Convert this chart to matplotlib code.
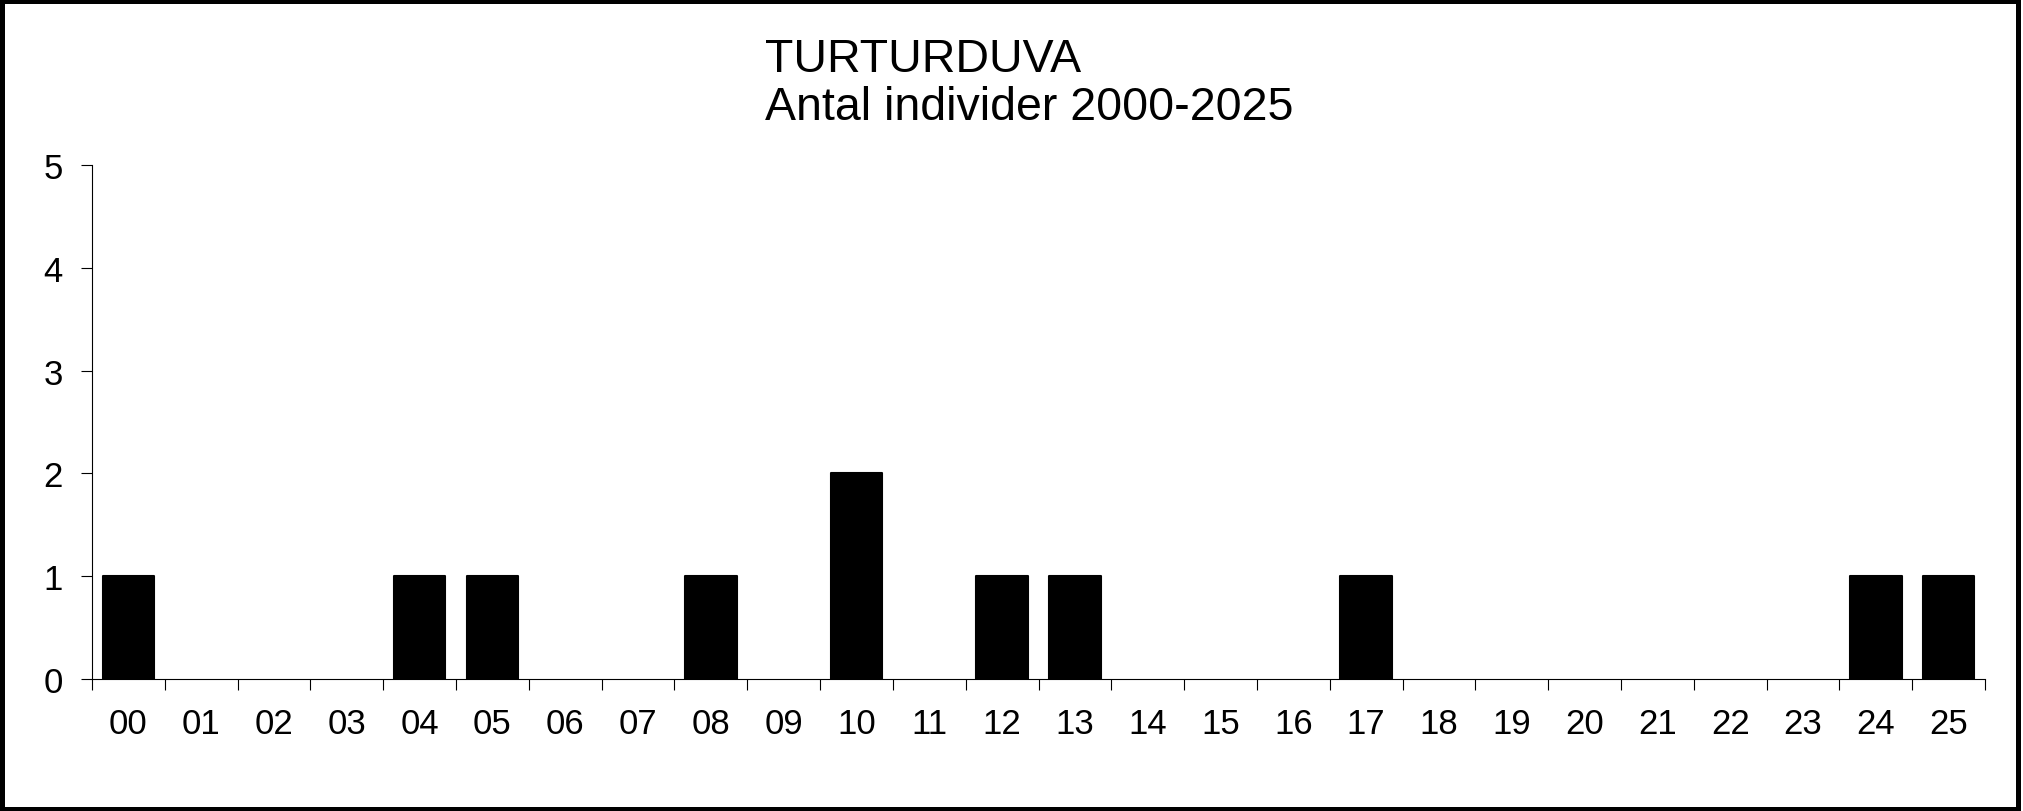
import matplotlib.pyplot as plt
from matplotlib.patches import Rectangle

years = ['00', '01', '02', '03', '04', '05', '06', '07', '08', '09', '10', '11', '12',
         '13', '14', '15', '16', '17', '18', '19', '20', '21', '22', '23', '24', '25']
counts = [1, 0, 0, 0, 1, 1, 0, 0, 1, 0, 2, 0, 1,
          1, 0, 0, 0, 1, 0, 0, 0, 0, 0, 0, 1, 1]
y_ticks = [0, 1, 2, 3, 4, 5]

plt.rcParams['font.family'] = ['Liberation Sans', 'DejaVu Sans']

W, H = 2023, 812
fig = plt.figure(figsize=(W / 100, H / 100), dpi=100)
ax = fig.add_axes([92 / W, (H - 680.3) / H, (1985 - 92) / W, (680.3 - 165.7) / H])

x = list(range(len(years)))
# zero-height bars get no edge so they don't show as lines on the axis
edge_w = [1.5 if c > 0 else 0 for c in counts]
ax.bar(x, counts, width=0.71, color='black', edgecolor='black', linewidth=edge_w,
       joinstyle='round', zorder=3)

ax.set_xlim(-0.5, len(years) - 0.5)
ax.set_ylim(0, 5)
ax.set_yticks(y_ticks)
ax.set_xticks(x)
ax.set_xticklabels(years)
ax.set_xticks([i - 0.5 for i in range(len(years) + 1)], minor=True)

for side in ['top', 'right']:
    ax.spines[side].set_visible(False)
for side in ['left', 'bottom']:
    ax.spines[side].set_linewidth(0.8)

ax.tick_params(axis='x', which='major', length=0, pad=20, labelsize=25)
ax.tick_params(axis='x', which='minor', length=8, width=0.8, direction='out')
ax.tick_params(axis='y', length=8, width=0.8, direction='out', pad=13, labelsize=25)

fig.text(765 / W, 1 - 38 / H, 'TURTURDUVA\nAntal individer 2000-2025',
         fontsize=33.5, ha='left', va='top', linespacing=1.12)

fig.patches.append(Rectangle((2 / W, 2.5 / H), 2015.5 / W, 807.5 / H,
                             transform=fig.transFigure, fill=False,
                             edgecolor='black', linewidth=3.6))

fig.savefig('out.png', dpi=100)
